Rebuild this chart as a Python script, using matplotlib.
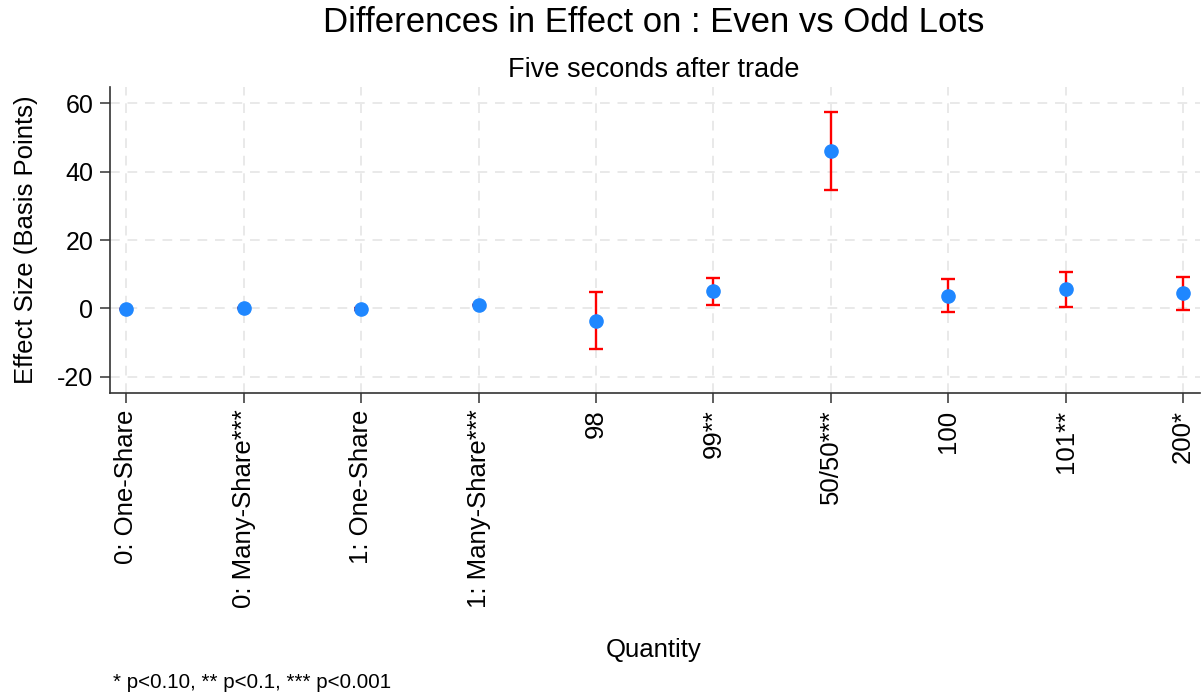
import matplotlib
matplotlib.use("Agg")
import matplotlib.pyplot as plt
import numpy as np

plt.rcParams['font.family'] = ['Liberation Sans', 'DejaVu Sans']

# Estimates and 95% confidence bounds (basis points) by trade quantity
categories = ["0: One-Share", "0: Many-Share***", "1: One-Share", "1: Many-Share***",
              "98", "99**", "50/50***", "100", "101**", "200*"]
estimates = [-0.2, 0.1, -0.2, 1.1, -3.6, 5.0, 46.0, 3.7, 5.7, 4.5]
ci_low = [-0.25, 0.05, -0.5, 1.05, -11.9, 1.1, 34.6, -1.1, 0.5, -0.3]
ci_high = [-0.15, 0.15, 0.1, 1.15, 4.8, 8.9, 57.4, 8.7, 10.6, 9.2]
yticks = [-20, 0, 20, 40, 60]

fig = plt.figure(figsize=(12.02, 6.96), dpi=100)
ax = fig.add_axes([0.0915, 0.4353, 0.9065, 0.4397])

x = np.arange(1, len(categories) + 1)
est = np.array(estimates)
lo = est - np.array(ci_low)
hi = np.array(ci_high) - est

ax.errorbar(x, est, yerr=[lo, hi], fmt='none', ecolor='#ff0000',
            elinewidth=1.7, capsize=5, capthick=1.7, zorder=3)
ax.plot(x, est, 'o', color='#1f87ff', markersize=9.5, zorder=4)

ax.set_xlim(0.86, 10.14)
ax.set_ylim(-24.7, 64.7)
ax.set_xticks(x)
ax.set_xticklabels(categories, rotation=90, fontsize=18.5)
ax.set_yticks(yticks)
ax.set_yticklabels([str(v) for v in yticks], fontsize=18)

ax.grid(True, color='#e9e9e9', linestyle=(0, (5, 4)), linewidth=1.4)
ax.set_axisbelow(True)

for side in ('top', 'right'):
    ax.spines[side].set_visible(False)
for side in ('left', 'bottom'):
    ax.spines[side].set_color('#333333')
    ax.spines[side].set_linewidth(1.2)
ax.tick_params(axis='both', direction='out', length=7, width=1.1,
               color='#333333', pad=5)

ax.set_ylabel("Effect Size (Basis Points)", fontsize=18.5, labelpad=14)

fig.text(0.5435, 1 - 22 / 696, "Differences in Effect on : Even vs Odd Lots",
         ha='center', va='center', fontsize=25)
fig.text(0.5435, 1 - 70 / 696, "Five seconds after trade",
         ha='center', va='center', fontsize=19.5)
fig.text(0.5435, 1 - 650 / 696, "Quantity", ha='center', va='center', fontsize=18.5)
fig.text(113 / 1202, 1 - 683 / 696, "* p<0.10, ** p<0.1, *** p<0.001",
         ha='left', va='center', fontsize=14.8)

fig.savefig("out.png", dpi=100)
